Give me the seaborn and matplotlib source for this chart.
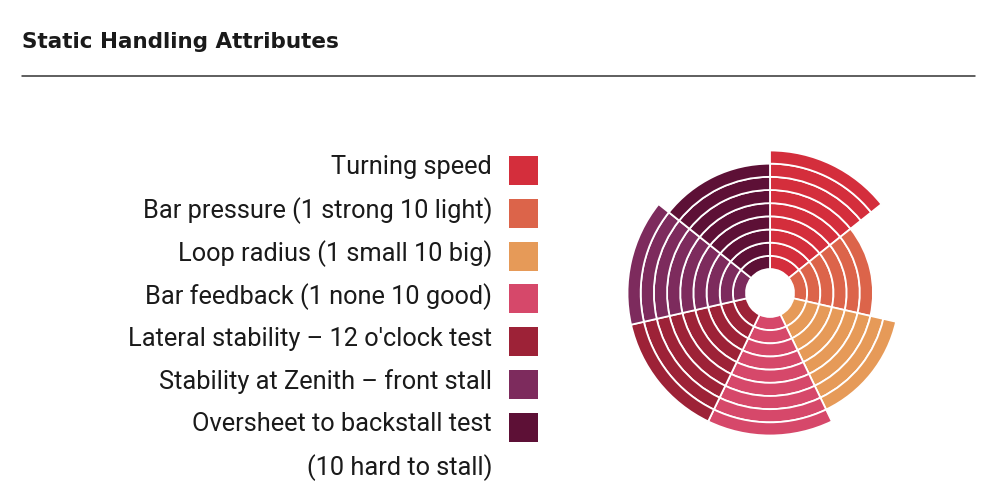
import matplotlib
matplotlib.use("Agg")
import matplotlib.pyplot as plt
from matplotlib.lines import Line2D
import matplotlib.transforms as mtransforms
import numpy as np
import pandas as pd
import seaborn as sns

# ---- data ----
categories = [
    "Turning speed",
    "Bar pressure (1 strong 10 light)",
    "Loop radius (1 small 10 big)",
    "Bar feedback (1 none 10 good)",
    "Lateral stability \u2013 12 o'clock test",
    "Stability at Zenith \u2013 front stall",
    "Oversheet to backstall test",
]
values = [9, 6, 8, 9, 9, 9, 8]
note = "(10 hard to stall)"
colors = ["#D42E3C", "#DC644A", "#E69A58", "#D6486A", "#9D2237", "#7D2B5D", "#5D1036"]
title = "Static Handling Attributes"
max_score = 10

sns.set_style("white")
plt.rcParams["font.family"] = ["Roboto", "DejaVu Sans"]
palette = sns.color_palette(colors)

W, H = 990, 498
fig = plt.figure(figsize=(W / 100, H / 100), dpi=100)

# ---- title and rule ----
fig.text(22 / W, 1 - 48 / H, title, fontsize=15.5, fontweight="bold",
         family=["DejaVu Sans"], color="#1a1a1a", va="baseline", ha="left")
fig.add_artist(Line2D([22 / W, 975 / W], [1 - 76.5 / H, 1 - 76.5 / H],
                      color="#333333", linewidth=1.1))

# ---- legend (seaborn scatter with categorical y) ----
row0, step = 170.5, 42.83
top_px = row0 - 0.5 * step
bot_px = row0 + 7.5 * step
lax = fig.add_axes([508 / W, 1 - bot_px / H, 30 / W, (bot_px - top_px) / H])
df = pd.DataFrame({"x": [0.5] * len(categories), "cat": categories})
sns.scatterplot(data=df, x="x", y="cat", hue="cat", palette=palette,
                marker="s", s=(29 * 0.72) ** 2, linewidth=0, legend=False, ax=lax)
lax.set_xlim(0, 1)
lax.set_ylim(7.5, -0.5)
lax.set_yticks(range(len(categories) + 1), labels=categories + [note])
lax.set_xticks([])
lax.set_xlabel("")
lax.set_ylabel("")
lax.tick_params(axis="y", length=0, pad=11.5, labelsize=18.3, labelcolor="#1a1a1a")
shift = mtransforms.ScaledTranslation(0, 4 / 72, fig.dpi_scale_trans)
for lab in lax.get_yticklabels():
    lab.set_transform(lab.get_transform() + shift)
for sp in lax.spines.values():
    sp.set_visible(False)
lax.patch.set_alpha(0)

# ---- polar ring chart ----
cx, cy = 770, 293
hole = 1.82
ring_px = 13.17
R_units = hole + max_score
R_px = R_units * ring_px
pax = fig.add_axes([(cx - R_px) / W, 1 - (cy + R_px) / H, 2 * R_px / W, 2 * R_px / H],
                   projection="polar")
pax.set_theta_zero_location("N")
pax.set_theta_direction(-1)
n = len(categories)
wedge = 2 * np.pi / n
for i, (v, c) in enumerate(zip(values, palette)):
    theta = (i + 0.5) * wedge
    for k in range(v):
        pax.bar(theta, 1, bottom=hole + k, width=wedge, color=c,
                edgecolor="white", linewidth=1.3, align="center")
pax.set_ylim(0, R_units)
pax.grid(False)
pax.set_xticks([])
pax.set_yticks([])
pax.spines["polar"].set_visible(False)
pax.patch.set_alpha(0)

fig.savefig("out.png", dpi=100, facecolor="white")
